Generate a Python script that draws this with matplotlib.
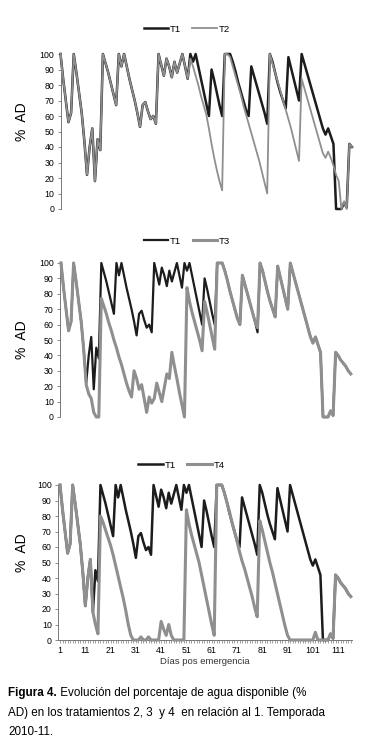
import matplotlib
matplotlib.use("Agg")
import matplotlib.pyplot as plt
from matplotlib.ticker import MultipleLocator, FixedLocator

plt.rcParams["font.family"] = ["Liberation Sans", "DejaVu Sans"]

# % AD per day after emergence (days 1..116)
t1 = [100, 84, 70, 56, 62, 100, 88, 75, 62, 44,
      22, 40, 52, 18, 45, 38, 100, 94, 88, 81,
      74, 67, 100, 92, 100, 92, 84, 77, 70, 62,
      53, 67, 69, 63, 58, 60, 55, 100, 93, 86,
      97, 92, 85, 95, 88, 94, 100, 92, 84, 100,
      95, 100, 92, 84, 76, 68, 60, 90, 83, 75,
      67, 60, 100, 100, 100, 95, 89, 82, 76, 70,
      64, 60, 92, 86, 80, 74, 68, 62, 55, 100,
      95, 88, 81, 75, 70, 65, 98, 91, 84, 77,
      70, 100, 94, 88, 82, 76, 70, 64, 58, 52,
      48, 52, 47, 42, 0, 0, 0, 4, 1, 42,
      40, 37, 35, 33, 30, 28]

# T2 is only drawn up to day 111 in the top panel
t2 = [100, 84, 70, 56, 62, 100, 88, 75, 62, 44,
      22, 40, 52, 18, 45, 38, 100, 94, 88, 81,
      74, 67, 100, 92, 100, 92, 84, 77, 70, 62,
      53, 67, 69, 63, 58, 60, 55, 100, 93, 86,
      97, 92, 85, 95, 88, 94, 100, 92, 84, 97,
      92, 86, 80, 73, 67, 61, 52, 42, 33, 25,
      18, 12, 100, 100, 98, 92, 86, 80, 74, 67,
      61, 55, 49, 43, 37, 31, 24, 17, 10, 100,
      94, 88, 82, 76, 70, 64, 58, 52, 45, 38,
      31, 84, 78, 72, 66, 60, 54, 48, 42, 36,
      33, 37, 33, 28, 22, 18, 0, 5, 0, 42,
      40]

t3 = [100, 84, 70, 56, 62, 100, 88, 75, 62, 44,
      21, 15, 12, 3, 0, 0, 77, 72, 67, 61,
      56, 50, 45, 39, 34, 28, 22, 17, 13, 30,
      25, 18, 21, 12, 3, 13, 9, 12, 22, 16,
      10, 19, 28, 25, 42, 33, 25, 16, 8, 0,
      84, 75, 68, 62, 56, 50, 43, 75, 68, 60,
      52, 44, 100, 100, 100, 95, 89, 82, 76, 70,
      64, 60, 92, 86, 80, 74, 68, 62, 58, 100,
      95, 88, 81, 75, 70, 65, 98, 91, 84, 77,
      70, 100, 94, 88, 82, 76, 70, 64, 58, 52,
      48, 52, 47, 42, 0, 0, 0, 4, 1, 42,
      40, 37, 35, 33, 30, 28]

t4 = [100, 84, 70, 56, 62, 100, 88, 75, 62, 44,
      22, 40, 52, 18, 10, 4, 80, 76, 71, 66,
      61, 55, 48, 41, 34, 27, 19, 10, 3, 0,
      0, 0, 2, 0, 0, 2, 0, 0, 0, 0,
      12, 7, 3, 10, 3, 0, 0, 0, 0, 0,
      84, 75, 68, 62, 56, 50, 42, 34, 26, 18,
      10, 3, 100, 100, 100, 95, 89, 83, 76, 70,
      64, 57, 51, 46, 40, 34, 28, 21, 15, 77,
      71, 64, 57, 50, 44, 37, 30, 23, 16, 9,
      3, 0, 0, 0, 0, 0, 0, 0, 0, 0,
      0, 5, 0, 0, 0, 0, 0, 4, 1, 42,
      40, 37, 35, 33, 30, 28]

days = list(range(1, len(t1) + 1))
xticks = list(range(1, 112, 10))

black = "#1c1c1c"
grey = "#8f8f8f"
W, H = 370, 755

fig = plt.figure(figsize=(W / 100, H / 100), dpi=100)


def box(x0, x1, y_top, y_bot):
    # pixel box -> figure fraction
    return [x0 / W, 1 - y_bot / H, (x1 - x0) / W, (y_bot - y_top) / H]


def style_y(ax):
    ax.set_ylim(0, 100)
    ax.yaxis.set_major_locator(MultipleLocator(10))
    ax.tick_params(axis="y", labelsize=6.3, length=2.5, width=0.6,
                   color="#777777", pad=2)
    for s in ["top", "right", "bottom"]:
        ax.spines[s].set_visible(False)
    ax.spines["left"].set_color("#777777")
    ax.spines["left"].set_linewidth(0.7)


def series(ax, y, color, lw, label, z):
    ax.plot(days[:len(y)], y, color=color, lw=lw, label=label, zorder=z,
            clip_on=False)


# panel 1: T1 vs T2
ax1 = fig.add_axes(box(60.5, 352, 54, 209))
series(ax1, t1[:len(t2)], black, 1.8, "T1", 2)
series(ax1, t2, grey, 1.3, "T2", 3)
ax1.set_xlim(1, len(t2))
ax1.set_xticks([])
style_y(ax1)

# panel 2: T1 vs T3
ax2 = fig.add_axes(box(60, 352, 263, 417))
series(ax2, t1, black, 1.6, "T1", 2)
series(ax2, t3, grey, 2.2, "T3", 3)
ax2.set_xlim(0.6, 116.5)
ax2.set_xticks([])
style_y(ax2)

# panel 3: T1 vs T4
ax3 = fig.add_axes(box(58, 352, 485, 640))
series(ax3, t1, black, 1.8, "T1", 2)
series(ax3, t4, grey, 2.2, "T4", 3)
ax3.set_xlim(0.2, 116.5)
style_y(ax3)
ax3.spines["bottom"].set_visible(True)
ax3.spines["bottom"].set_color("#777777")
ax3.spines["bottom"].set_linewidth(0.7)
ax3.xaxis.set_major_locator(FixedLocator(xticks))
ax3.xaxis.set_minor_locator(MultipleLocator(1))
ax3.tick_params(axis="x", which="both", length=2.5, width=0.5,
                color="#777777", labelsize=6.3, pad=2)
ax3.set_xlabel("Días pos emergencia", fontsize=6.8, labelpad=1, color="#333333")

for ax, yc, ly, lx in [(ax1, 122, 29, 0.505), (ax2, 340, 241, 0.505),
                       (ax3, 553, 465, 0.49)]:
    fig.text(22 / W, 1 - yc / H, "%  AD", rotation=90, ha="center",
             va="center", fontsize=10)
    ax.legend(loc="center", bbox_to_anchor=(lx, 1 - ly / H),
              bbox_transform=fig.transFigure, ncol=2, frameon=False,
              fontsize=6.8, handlelength=2.6, handletextpad=0.2,
              columnspacing=1.2)

# caption
cap = 8.4
head = fig.text(8 / W, 1 - 693 / H, "Figura 4.", fontsize=cap,
                fontweight="bold", va="center", ha="left")
ax1.annotate(" Evolución del porcentaje de agua disponible (%", xy=(1, 0.5),
             xycoords=head, fontsize=cap, va="center", ha="left",
             annotation_clip=False)
fig.text(8 / W, 1 - 713 / H,
         "AD) en los tratamientos 2, 3  y 4  en relación al 1. Temporada",
         fontsize=cap, va="center", ha="left")
fig.text(8 / W, 1 - 732 / H, "2010-11.", fontsize=cap, va="center", ha="left")

fig.savefig("out.png", dpi=100)
